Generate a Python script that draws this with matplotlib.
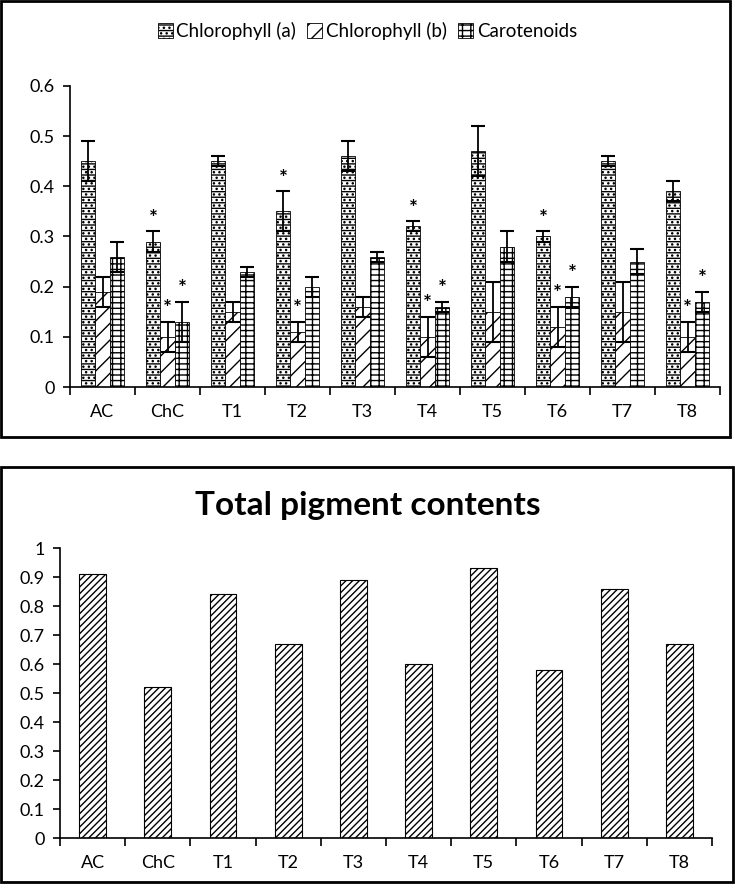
import numpy as np
import matplotlib
matplotlib.use('Agg')
import matplotlib.pyplot as plt
from matplotlib.patches import Rectangle

plt.rcParams['font.family'] = ['Lato', 'DejaVu Sans']
plt.rcParams['hatch.linewidth'] = 1.0

groups = ['AC', 'ChC', 'T1', 'T2', 'T3', 'T4', 'T5', 'T6', 'T7', 'T8']
chl_a = [0.45, 0.29, 0.45, 0.35, 0.46, 0.32, 0.47, 0.30, 0.45, 0.39]
chl_a_err = [0.04, 0.02, 0.01, 0.04, 0.03, 0.01, 0.05, 0.01, 0.01, 0.02]
chl_b = [0.19, 0.10, 0.15, 0.11, 0.16, 0.10, 0.15, 0.12, 0.15, 0.10]
chl_b_err = [0.03, 0.03, 0.02, 0.02, 0.02, 0.04, 0.06, 0.04, 0.06, 0.03]
carot = [0.26, 0.13, 0.23, 0.20, 0.26, 0.16, 0.28, 0.18, 0.25, 0.17]
carot_err = [0.03, 0.04, 0.01, 0.02, 0.01, 0.01, 0.03, 0.02, 0.025, 0.02]
# significance stars (1 = marked)
star_a = [0, 1, 0, 1, 0, 1, 0, 1, 0, 0]
star_b = [0, 1, 0, 1, 0, 1, 0, 1, 0, 1]
star_c = [0, 1, 0, 0, 0, 1, 0, 1, 0, 1]
total = [0.91, 0.52, 0.84, 0.67, 0.89, 0.60, 0.93, 0.58, 0.86, 0.67]

fig = plt.figure(figsize=(7.35, 8.88), dpi=100)

# panel borders
fig.patches.append(Rectangle((1/735, 1-437/888), 729/735, 436/888, transform=fig.transFigure,
                             fill=False, lw=2, ec='black'))
fig.patches.append(Rectangle((1/735, 1-882/888), 732/735, 415/888, transform=fig.transFigure,
                             fill=False, lw=2, ec='black'))


def style_axis(ax, n):
    for s in ['top', 'right']:
        ax.spines[s].set_visible(False)
    ax.spines['left'].set_linewidth(1.2)
    ax.spines['bottom'].set_linewidth(1.2)
    ax.set_xlim(-0.5, n - 0.5)
    ax.set_xticks(range(n))
    ax.set_xticklabels(groups, fontsize=13)
    ax.set_xticks(np.arange(-0.5, n, 1), minor=True)
    ax.tick_params(axis='x', which='major', length=0, pad=12)
    ax.tick_params(axis='x', which='minor', length=6, width=1.2, direction='out')
    ax.tick_params(axis='y', length=5, width=1.2, labelsize=13, pad=6)


# top chart
ax1 = fig.add_axes([70/735, 1-387/888, 650/735, 301/888])
x = np.arange(len(groups))
w = 0.225
series = [(chl_a, chl_a_err, star_a, '...---', 'Chlorophyll (a)'),
          (chl_b, chl_b_err, star_b, '//', 'Chlorophyll (b)'),
          (carot, carot_err, star_c, '---||', 'Carotenoids')]
for i, (vals, err, stars, hatch, lab) in enumerate(series):
    xs = x + (i - 1) * w
    ax1.bar(xs, vals, w, color='white', edgecolor='black', hatch=hatch, lw=0.6, label=lab)
    ax1.errorbar(xs, vals, yerr=err, fmt='none', ecolor='black', elinewidth=1.3, capsize=5, capthick=1.5)
    for xi, v, e, s in zip(xs, vals, err, stars):
        if s:
            ax1.annotate('*', (xi, v + e), xytext=(0, 2), textcoords='offset points',
                         ha='center', va='bottom', fontsize=15, fontweight='bold')
ax1.set_ylim(0, 0.6)
ax1.set_yticks(np.arange(0, 0.61, 0.1))
ax1.set_yticklabels(['0', '0.1', '0.2', '0.3', '0.4', '0.5', '0.6'])
style_axis(ax1, len(groups))
fig.legend(loc='center', bbox_to_anchor=(0.5, 1-31/888), ncol=3, frameon=False, fontsize=13.5,
           handlelength=0.8, handleheight=0.8, handletextpad=0.2, columnspacing=0.6)

# bottom chart
ax2 = fig.add_axes([60/735, 1-838/888, 652/735, 290/888])
ax2.bar(x, total, 0.41, color='white', edgecolor='black', hatch='/////', lw=0.8)
ax2.set_ylim(0, 1)
ax2.set_yticks(np.arange(0, 1.01, 0.1))
ax2.set_yticklabels(['0', '0.1', '0.2', '0.3', '0.4', '0.5', '0.6', '0.7', '0.8', '0.9', '1'])
style_axis(ax2, len(groups))
fig.text(0.5, 1-505/888, 'Total pigment contents', ha='center', va='center',
         fontsize=24, fontweight='bold')

fig.savefig('out.png', dpi=100)
